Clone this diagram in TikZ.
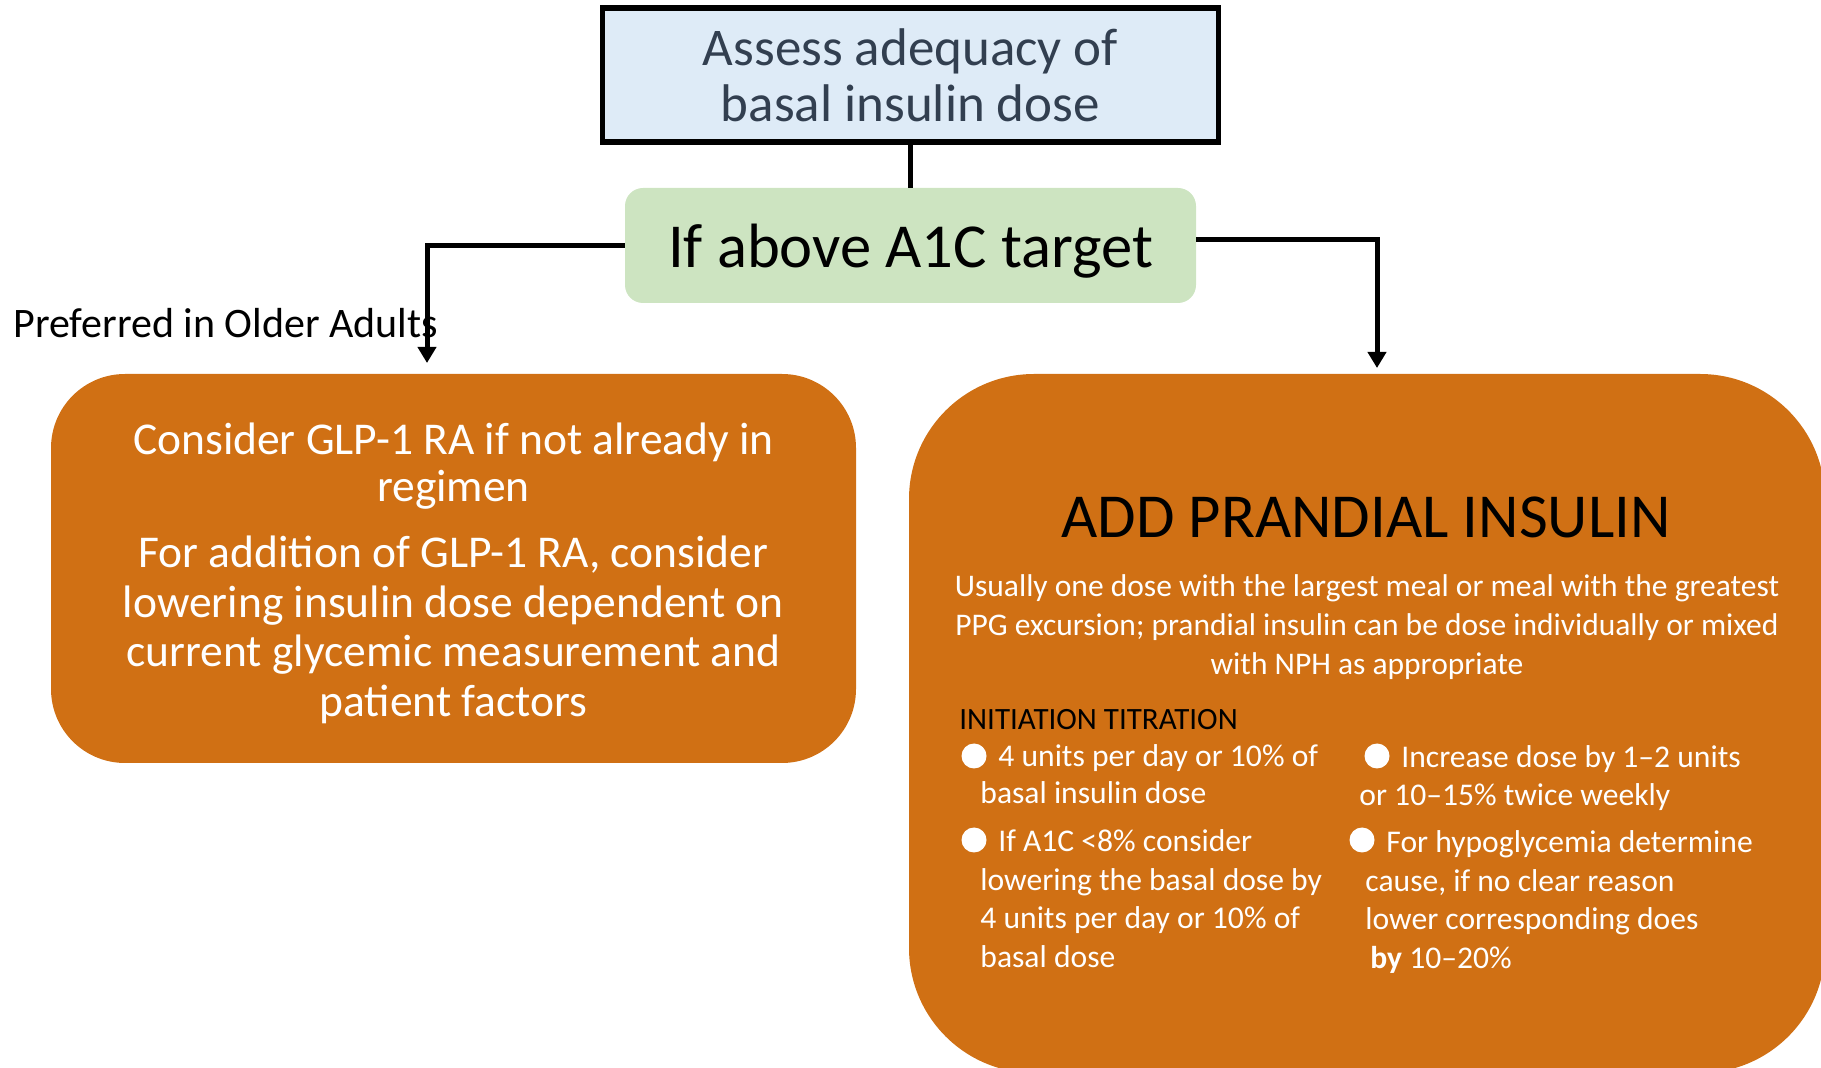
\documentclass[tikz,border=0pt]{standalone}
\usepackage{fontspec}
\setmainfont{Carlito}
\usepackage{tikz}
\usetikzlibrary{arrows.meta}
\usetikzlibrary{positioning}
\definecolor{boxblue}{RGB}{222,235,247}
\definecolor{condgreen}{RGB}{205,228,193}
\definecolor{prandorange}{RGB}{208,112,20}
\definecolor{titleslate}{RGB}{50,63,80}
\tikzset{
    assessbox/.style={draw=black, line width=2.75pt, fill=boxblue, text=titleslate,
        minimum width=308pt, minimum height=67pt, inner sep=0pt, align=center,
        font=\fontsize{26.5pt}{28pt}\selectfont},
    condbox/.style={fill=condgreen, rounded corners=9pt, minimum width=285.5pt,
        minimum height=57.5pt, inner sep=0pt, text depth=0pt,
        font=\fontsize{31.3pt}{34pt}\selectfont},
    optionbox/.style={fill=prandorange, inner sep=0pt, text=white, align=center},
    link/.style={draw=black, line width=2.5pt, -{Triangle[length=8pt,width=9pt]}},
    plainlink/.style={draw=black, line width=2.5pt},
    dot/.style={circle, fill=white, inner sep=0pt, minimum size=12.5pt},
    itemtext/.style={anchor=west, inner sep=0pt, text=white, align=left,
        font=\fontsize{15.8pt}{19.35pt}\selectfont},
}

\begin{document}
\begin{tikzpicture}[x=0.5pt, y=-0.5pt]
	\useasboundingbox (0,0) rectangle (1821,1068);
	\clip (0,0) rectangle (1821,1068);
	% top of the chart
	\node[assessbox] (assess) at (910.5,75) {Assess adequacy of\\basal insulin dose};
	\node[condbox] (cond) at (910.5,245.5) {If above A1C target};
	\draw[plainlink] (assess) -- (cond);
	% the two options
	\node[optionbox, rounded corners=37pt, minimum width=402.5pt, minimum height=194.5pt]
		(glp) at (453.5,568.5) {};
	\node[inner sep=0pt, text=white, align=center,
		font=\fontsize{22.75pt}{24.7pt}\selectfont] (glptext) at (453.5,573)
		{Consider GLP-1 RA if not already in\\[-0.8pt]regimen\\[8.3pt]
		For addition of GLP-1 RA, consider\\lowering insulin dose dependent on\\
		current glycemic measurement and\\patient factors};
	\node[optionbox, rounded corners=62.5pt, minimum width=458pt, minimum height=349.5pt]
		(prand) at (1367,723.5) {};
	\coordinate (lend) at (427,363);
	\coordinate (rend) at (1377,368);
	\draw[link] (cond.west) -| (lend);
	\draw[link] ([yshift=3pt]cond.east) -| (rend);
	\node[anchor=west, inner sep=0pt, font=\fontsize{21pt}{24pt}\selectfont] (older) at (13,323)
		{Preferred in Older Adults};
	% inside the prandial box
	\node[inner sep=0pt, font=\fontsize{31.3pt}{34pt}\selectfont] (addtitle) at (1366,517)
		{ADD PRANDIAL INSULIN};
	\node[inner sep=0pt, text=white, align=center, font=\fontsize{15.75pt}{19.6pt}\selectfont]
		(usual) at (1367,627)
		{Usually one dose with the largest meal or meal with the greatest\\
		PPG excursion; prandial insulin can be dose individually or mixed\\
		with NPH as appropriate};
	\node[anchor=west, inner sep=0pt, font=\fontsize{15.5pt}{19pt}\selectfont] (titr) at (959,720)
		{INITIATION TITRATION};
	\node[dot] (dotA) at (974,756) {};
	\node[dot] (dotB) at (1377,756) {};
	\node[dot] (dotC) at (974,840) {};
	\node[dot] (dotD) at (1362,840) {};
	\node[itemtext, font=\fontsize{15.8pt}{18.6pt}\selectfont] (itemA) at (980,774.5)
		{\hspace{9pt}4 units per day or 10\% of\\basal insulin dose};
	\node[itemtext, font=\fontsize{15.8pt}{18.6pt}\selectfont] (itemB) at (1359,778)
		{\hspace{21pt}Increase dose by 1–2 units\\or 10–15\% twice weekly};
	\node[itemtext] (itemC) at (980,898.5)
		{\hspace{9pt}If A1C <8\% consider\\lowering the basal dose by\\
		4 units per day or 10\% of\\basal dose};
	\node[itemtext] (itemD) at (1365,902)
		{\hspace{10.5pt}For hypoglycemia determine\\cause, if no clear reason\\
		lower corresponding does\\\hspace{2.5pt}\textbf{by} 10–20\%};
\end{tikzpicture}
\end{document}
